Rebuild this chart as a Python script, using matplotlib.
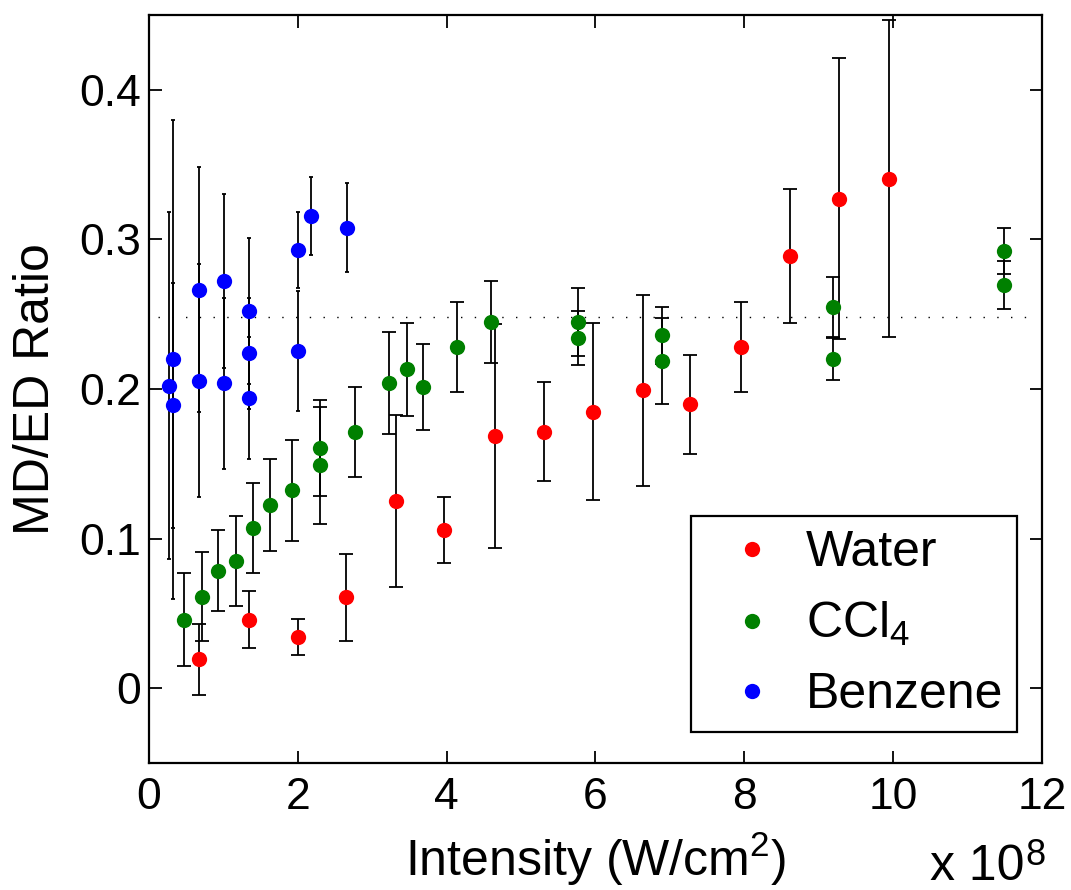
import matplotlib
matplotlib.use("Agg")
import matplotlib.pyplot as plt
import numpy as np

plt.rcParams['font.family'] = ['Liberation Sans', 'DejaVu Sans']
plt.rcParams['mathtext.fontset'] = 'custom'
plt.rcParams['mathtext.rm'] = 'Liberation Sans'
plt.rcParams['mathtext.it'] = 'Liberation Sans'

# ---- data (intensity in units of 1e8 W/cm^2) ----
water_x = [0.676, 1.34, 2.003, 2.648, 3.324, 3.969, 4.651, 5.309, 5.972, 6.635, 7.276, 7.953, 8.616, 9.278, 9.942]
water_y = [0.0192, 0.0457, 0.0341, 0.0607, 0.1249, 0.1057, 0.1684, 0.1715, 0.1848, 0.1991, 0.1897, 0.2283, 0.2888, 0.3273, 0.3405]
water_err = [0.024, 0.019, 0.012, 0.029, 0.0575, 0.022, 0.075, 0.033, 0.059, 0.064, 0.033, 0.030, 0.045, 0.094, 0.106]

ccl4_x = [0.470, 0.708, 0.932, 1.165, 1.402, 1.626, 1.922, 2.303, 2.303, 2.773, 3.230, 3.463, 3.687,
          4.144, 4.597, 5.766, 5.766, 6.899, 6.899, 9.198, 9.198, 11.496, 11.496]
ccl4_y = [0.0457, 0.0613, 0.0785, 0.085, 0.1072, 0.1224, 0.1322, 0.1605, 0.149, 0.1715, 0.204, 0.2132, 0.2013,
          0.2283, 0.2448, 0.2448, 0.2341, 0.2359, 0.2187, 0.2548, 0.2198, 0.2923, 0.2698]
ccl4_err = [0.031, 0.030, 0.027, 0.030, 0.030, 0.031, 0.034, 0.032, 0.039, 0.030, 0.034, 0.031, 0.029,
            0.030, 0.0274, 0.0225, 0.018, 0.0192, 0.0288, 0.020, 0.014, 0.0153, 0.016]

benz_x = [0.269, 0.327, 0.327, 0.676, 0.676, 1.008, 1.008, 1.34, 1.34, 1.34, 2.003, 2.003, 2.173, 2.661]
benz_y = [0.2022, 0.2198, 0.189, 0.2664, 0.2056, 0.2722, 0.2038, 0.2522, 0.2239, 0.194, 0.2928, 0.2256, 0.3155, 0.3079]
benz_err = [0.116, 0.160, 0.082, 0.082, 0.078, 0.058, 0.057, 0.049, 0.037, 0.041, 0.0255, 0.040, 0.026, 0.030]

ref_level = 0.248
ref_span = [0.12, 11.85]

x_ticks = [0, 2, 4, 6, 8, 10, 12]
y_ticks = [0, 0.1, 0.2, 0.3, 0.4]
y_ticklabels = ['0', '0.1', '0.2', '0.3', '0.4']

fig = plt.figure(figsize=(10.71, 8.90), dpi=100)
ax = fig.add_axes([0.1391, 0.1427, 0.8338, 0.8404])

ax.plot(ref_span, [ref_level, ref_level], color='black', linestyle=(0, (1, 8.9)), linewidth=1.0, zorder=1)

ebkw = dict(fmt='none', ecolor='black', elinewidth=1.3, zorder=2)
ax.errorbar(water_x, water_y, yerr=water_err, capsize=4.8, capthick=1.3, **ebkw)
ax.errorbar(ccl4_x, ccl4_y, yerr=ccl4_err, capsize=4.8, capthick=1.3, **ebkw)
ax.errorbar(benz_x, benz_y, yerr=benz_err, capsize=1.4, capthick=1.3, **ebkw)

mk = dict(linestyle='none', marker='o', markersize=11, markeredgewidth=0, zorder=3)
ax.plot(water_x, water_y, color='#ff0000', label='Water', **mk)
ax.plot(ccl4_x, ccl4_y, color='#008000', label='CCl$_4$', **mk)
ax.plot(benz_x, benz_y, color='#0000ff', label='Benzene', **mk)

ax.set_xlim(0, 12)
ax.set_ylim(-0.05, 0.45)
ax.set_xticks(x_ticks)
ax.set_xticklabels([str(t) for t in x_ticks])
ax.set_yticks(y_ticks)
ax.set_yticklabels(y_ticklabels)

for s in ax.spines.values():
    s.set_linewidth(1.6)
ax.tick_params(direction='in', length=9, width=1.3, top=True, right=True,
               labelsize=32)
ax.tick_params(axis='x', pad=10)
ax.tick_params(axis='y', pad=6)

ax.set_xlabel('Intensity (W/cm$^2$)', fontsize=36, labelpad=9)
ax.set_ylabel('MD/ED Ratio', fontsize=36, labelpad=14)

# exponent label "x 10^8" in the bottom-right corner
fig.text(1025 / 1071, 1 - 880 / 890, 'x 10', fontsize=36, ha='right', va='baseline')
fig.text(1025 / 1071, 1 - 838 / 890, '8', fontsize=26, ha='left', va='top')

leg = ax.legend(loc='lower right', bbox_to_anchor=(0.972, 0.041), borderaxespad=0,
                fontsize=36, frameon=True, fancybox=False, edgecolor='black', framealpha=1,
                handlelength=1.9, handletextpad=0.12, borderpad=0.28, labelspacing=0.48,
                markerscale=1.0)
leg.get_frame().set_linewidth(1.6)

fig.savefig('out.png', dpi=100)
